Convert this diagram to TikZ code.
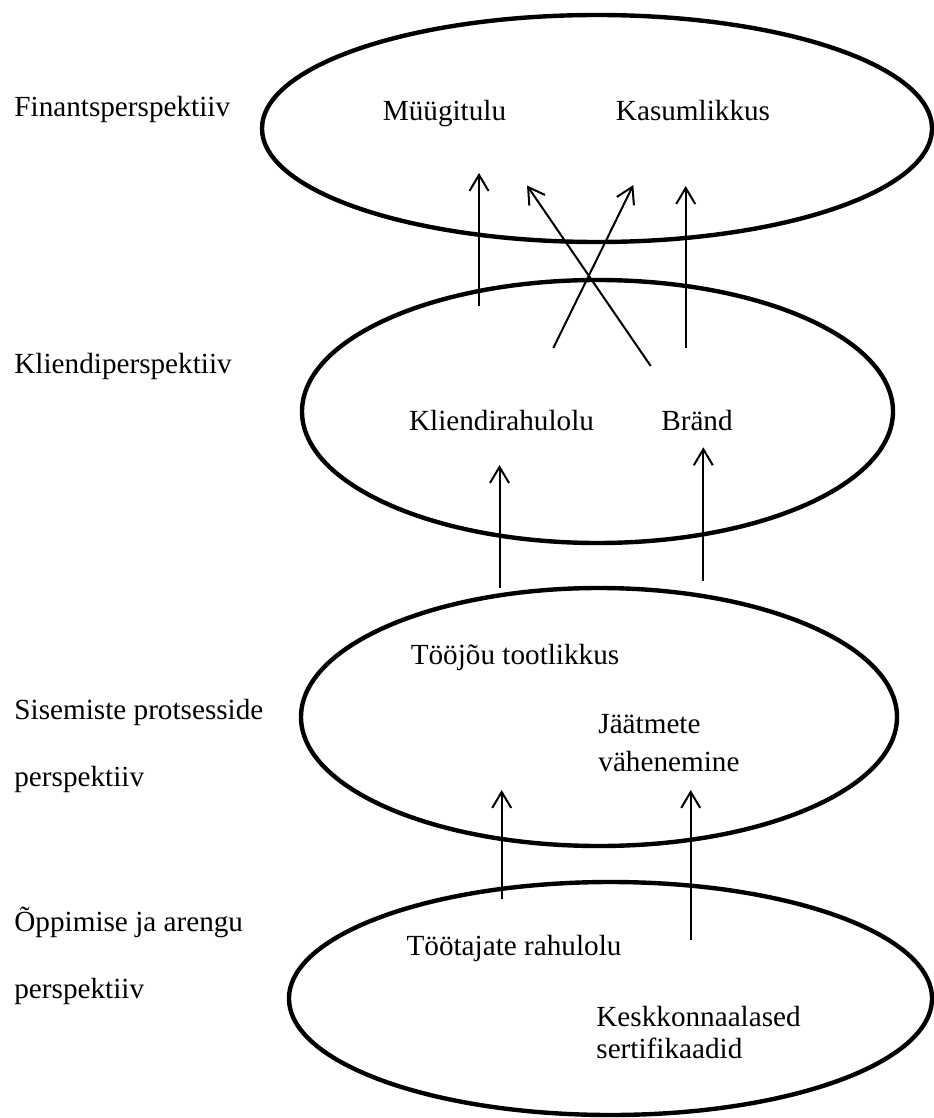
\documentclass[tikz,border=0pt]{standalone}
\usepackage{fontspec}
\setmainfont{Liberation Serif}
\usetikzlibrary{shapes.geometric,arrows.meta}
\begin{document}
\begin{tikzpicture}[x=0.5pt,y=-0.5pt,
  persp/.style={draw, ellipse, line width=2.2pt, inner sep=0pt},
  txt/.style={font=\fontsize{14.6}{16.25}\selectfont, inner sep=0pt},
  side/.style={txt, anchor=base west},
  goal/.style={txt, anchor=base},
  multi/.style={txt, anchor=base west},
  link/.style={line width=1pt, -{Straight Barb[length=8pt,width=9.5pt]}}]
\useasboundingbox (0,0) rectangle (933,1118);

% perspective ellipses
\node[persp, minimum width=335pt, minimum height=113.5pt] (fin) at (597,128.5) {};
\node[persp, minimum width=295.5pt, minimum height=131.5pt] (cli) at (597.5,411.5) {};
\node[persp, minimum width=298pt, minimum height=129pt] (int) at (599,717) {};
\node[persp, minimum width=321.5pt, minimum height=116.5pt] (lea) at (610.5,998.5) {};

% perspective names
\node[side] (lfin) at (14,117) {Finantsperspektiiv};
\node[side] (lcli) at (14,373) {Kliendiperspektiiv};
\node[side] (lint) at (14,719) {\begin{tabular}[t]{@{}l@{}}Sisemiste protsesside\\[17.25pt]perspektiiv\end{tabular}};
\node[side] (llea) at (14,931) {\begin{tabular}[t]{@{}l@{}}Õppimise ja arengu\\[17.25pt]perspektiiv\end{tabular}};

% objectives
\node[goal] (sales) at (444.5,121) {Müügitulu};
\node[goal] (profit) at (693,121) {Kasumlikkus};
\node[goal] (satis) at (501.5,430) {Kliendirahulolu};
\node[goal] (brand) at (697,430) {Bränd};
\node[goal] (prod) at (515,664) {Tööjõu tootlikkus};
\node[multi] (waste) at (598,733) {\begin{tabular}[t]{@{}l@{}}Jäätmete\\[2.75pt]vähenemine\end{tabular}};
\node[goal] (staff) at (514,955) {Töötajate rahulolu};
\node[multi] (cert) at (596,1026) {\begin{tabular}[t]{@{}l@{}}Keskkonnaalased\\sertifikaadid\end{tabular}};

% arrow end points
\coordinate (a1s) at (479,306);   \coordinate (a1e) at (479,173);
\coordinate (a2s) at (650.7,366); \coordinate (a2e) at (527,185.5);
\coordinate (a3s) at (553.3,348); \coordinate (a3e) at (633.3,185);
\coordinate (a4s) at (685.7,348); \coordinate (a4e) at (685.7,186);
\coordinate (a5s) at (499.5,588); \coordinate (a5e) at (499.5,465);
\coordinate (a6s) at (703.3,580.7); \coordinate (a6e) at (703.3,447.3);
\coordinate (a7s) at (501.7,899); \coordinate (a7e) at (501.7,790);
\coordinate (a8s) at (690.7,940); \coordinate (a8e) at (690.7,790);

% cause and effect links
\draw[link] (a1s) -- (a1e);
\draw[link] (a2s) -- (a2e);
\draw[link] (a3s) -- (a3e);
\draw[link] (a4s) -- (a4e);
\draw[link] (a5s) -- (a5e);
\draw[link] (a6s) -- (a6e);
\draw[link] (a7s) -- (a7e);
\draw[link] (a8s) -- (a8e);
\end{tikzpicture}
\end{document}
